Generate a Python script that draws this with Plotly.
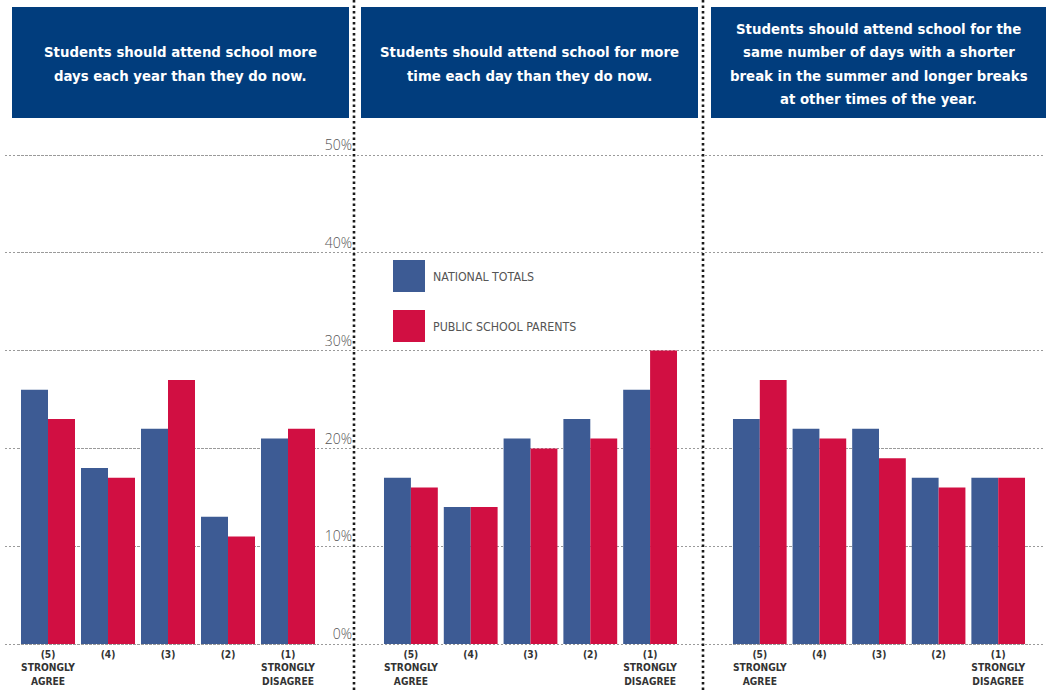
import plotly.graph_objects as go

W, H = 1053, 690

categories = ["(5)<br>STRONGLY<br>AGREE", "(4)", "(3)", "(2)", "(1)<br>STRONGLY<br>DISAGREE"]
cat_keys = ["5", "4", "3", "2", "1"]

titles = [
    "Students should attend school more<br>days each year than they do now.",
    "Students should attend school for more<br>time each day than they do now.",
    "Students should attend school for the<br>same number of days with a shorter<br>break in the summer and longer breaks<br>at other times of the year.",
]

national_1 = [26, 18, 22, 13, 21]
parents_1 = [23, 17, 27, 11, 22]
national_2 = [17, 14, 21, 23, 26]
parents_2 = [16, 14, 20, 21, 30]
national_3 = [23, 22, 22, 17, 17]
parents_3 = [27, 21, 19, 16, 17]

y_ticks = [0, 10, 20, 30, 40, 50]
y_tick_labels = ["0%", "10%", "20%", "30%", "40%", "50%"]

series_names = ["NATIONAL TOTALS", "PUBLIC SCHOOL PARENTS"]

BLUE = "#3D5B94"
RED = "#D10F42"
HEADER = "#013D7D"
NARROW = "DejaVu Sans Condensed, Liberation Sans Narrow, Arial Narrow, sans-serif"

def px(v):
    return v / W

def py(v):
    return (H - v) / H

fig = go.Figure()

# full-width axis for continuous gridlines
fig.add_trace(go.Scatter(x=[None], y=[None], xaxis="x", yaxis="y",
                         showlegend=False, hoverinfo="skip"))

panels = [(national_1, parents_1), (national_2, parents_2), (national_3, parents_3)]
for i, (nat, par) in enumerate(panels):
    xa = "x%d" % (i + 2)
    fig.add_trace(go.Bar(x=cat_keys, y=nat, name=series_names[0], marker_color=BLUE,
                         marker_line_width=0, xaxis=xa, yaxis="y", showlegend=False))
    fig.add_trace(go.Bar(x=cat_keys, y=par, name=series_names[1], marker_color=RED,
                         marker_line_width=0, xaxis=xa, yaxis="y", showlegend=False))

y0_px, y50_px = 644, 155
unit = (y0_px - y50_px) / 50.0
rlo, rhi = -0.3, 50.5
dom_bot = py(y0_px - rlo * unit)
dom_top = py(y0_px - rhi * unit)

xaxis_common = dict(type="category", showgrid=False, zeroline=False, showline=False,
                    ticks="", tickmode="array", tickvals=cat_keys, ticktext=categories,
                    tickfont=dict(family=NARROW, size=10.2, color="#333333", weight="bold"),
                    anchor="y", range=[-0.5, 4.5], fixedrange=True, automargin=False)

panel_domains = [(18, 318), (381, 680), (730, 1028)]

layout = dict(
    width=W, height=H, autosize=False,
    margin=dict(l=0, r=0, t=0, b=0, pad=0),
    paper_bgcolor="white", plot_bgcolor="rgba(0,0,0,0)",
    barmode="group", bargap=0.1, bargroupgap=0,
    showlegend=False,
    xaxis=dict(domain=[px(5), px(1045)], visible=False, range=[0, 1], anchor="y",
               showgrid=False, zeroline=False, automargin=False),
    yaxis=dict(domain=[dom_bot, dom_top], range=[rlo, rhi], tickmode="array",
               tickvals=y_ticks, ticktext=y_tick_labels, showgrid=True,
               gridcolor="#9a9a9a", gridwidth=1, griddash="2px,2px",
               zeroline=False, showline=False, ticks="", automargin=False,
               anchor="free", position=px(352), side="left",
               ticklabelposition="outside top",
               tickfont=dict(family="Open Sans, sans-serif", size=14, color="#555555", weight=300)),
)
for i, (a, b) in enumerate(panel_domains):
    d = dict(xaxis_common)
    d["domain"] = [px(a), px(b)]
    layout["xaxis%d" % (i + 2)] = d

fig.update_layout(**layout)

shapes = []
annotations = []
boxes = [(12, 349), (361, 698), (711, 1046)]
LINE_H = 23.6
for (a, b), t in zip(boxes, titles):
    shapes.append(dict(type="rect", xref="paper", yref="paper", x0=px(a), x1=px(b),
                       y0=py(118), y1=py(7), fillcolor=HEADER, line_width=0, layer="above"))
    lines = t.split("<br>")
    n = len(lines)
    for j, ln in enumerate(lines):
        yc = 63.5 + (j - (n - 1) / 2) * LINE_H
        annotations.append(dict(xref="paper", yref="paper", x=px((a + b) / 2), y=py(yc),
                                text=ln, showarrow=False, xanchor="center", yanchor="middle",
                                align="center",
                                font=dict(family=NARROW, size=14.8, color="white", weight="bold")))

for xs in (354, 703):
    shapes.append(dict(type="line", xref="paper", yref="paper", x0=px(xs), x1=px(xs),
                       y0=0, y1=1, line=dict(color="#1a1a1a", width=2.6, dash="2.6px,2.9px"),
                       layer="above"))

# legend
for k, (col, name) in enumerate(zip([BLUE, RED], series_names)):
    top = 260 + 50 * k
    shapes.append(dict(type="rect", xref="paper", yref="paper", x0=px(393), x1=px(425),
                       y0=py(top + 32), y1=py(top), fillcolor=col, line_width=0))
    annotations.append(dict(xref="paper", yref="paper", x=px(431), y=py(top + 17),
                            text=name, showarrow=False, xanchor="left", yanchor="middle",
                            font=dict(family=NARROW, size=12.3, color="#555555")))

fig.update_layout(shapes=shapes, annotations=annotations)
fig.write_html("out.html")
